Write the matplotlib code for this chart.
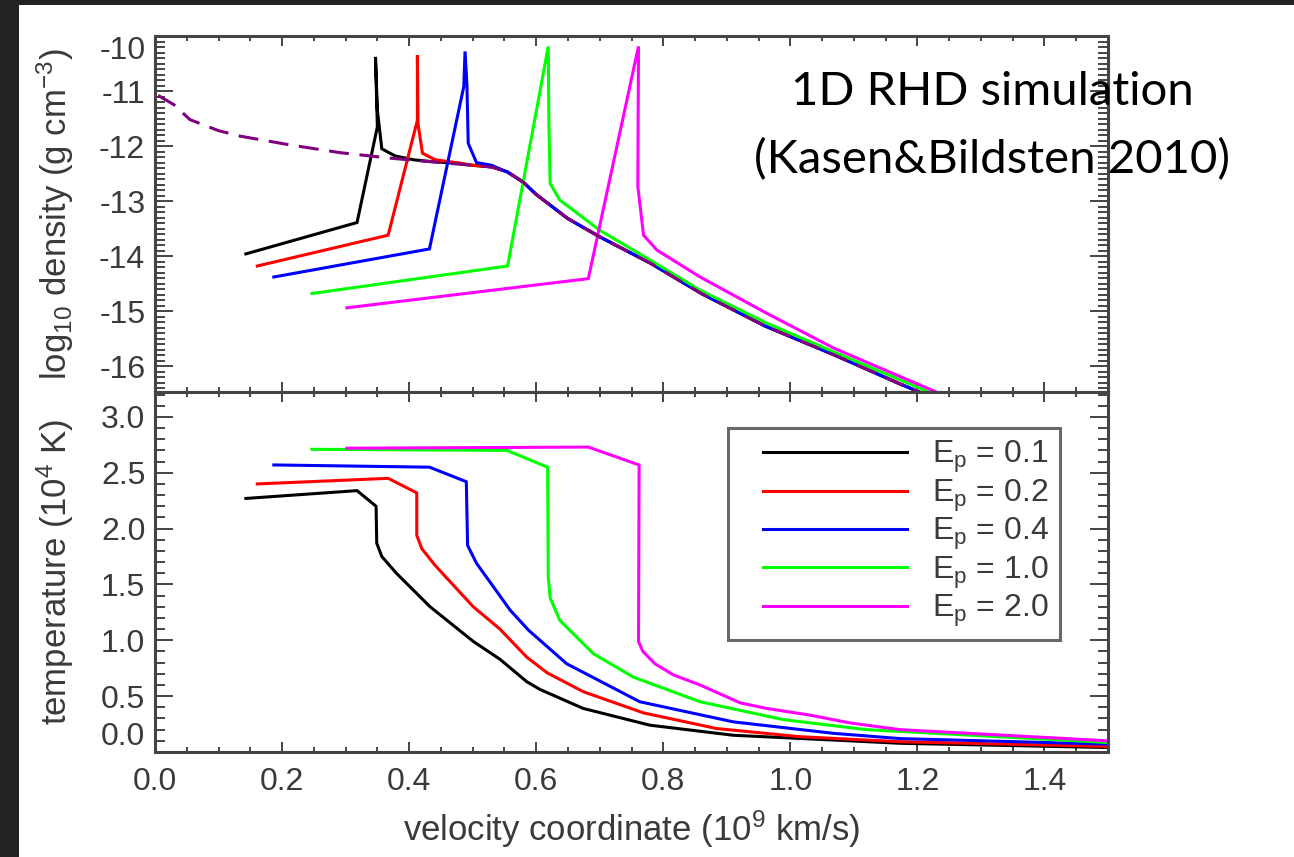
import matplotlib
matplotlib.use("Agg")
import matplotlib.pyplot as plt
from matplotlib.ticker import MultipleLocator
from matplotlib.legend_handler import HandlerLine2D
from matplotlib.lines import Line2D

# ---------------- data ----------------
energy_labels = ["0.1", "0.2", "0.4", "1.0", "2.0"]

# shared outer envelope (unshocked ejecta) for log10 density
envelope_v = [0.50, 0.53, 0.555, 0.58, 0.60, 0.65, 0.70, 0.78, 0.86, 0.96, 1.07, 1.17, 1.25]
envelope_rho = [-12.35, -12.38, -12.47, -12.66, -12.88, -13.32, -13.65, -14.13, -14.68, -15.27, -15.80, -16.31, -16.70]

# initial profile (dashed), inner part before joining the envelope
initial_v = [0.005, 0.03, 0.055, 0.10, 0.134, 0.213, 0.291, 0.37, 0.449]
initial_rho = [-11.08, -11.25, -11.52, -11.72, -11.82, -11.98, -12.12, -12.22, -12.30]

# log10 density, inner parts (joined to the envelope where noted)
rho_v_01 = [0.143, 0.318, 0.350, 0.347, 0.350, 0.357, 0.378, 0.407, 0.433, 0.47]
rho_01 = [-13.96, -13.39, -11.65, -10.38, -11.35, -12.05, -12.18, -12.25, -12.28, -12.31]

rho_v_02 = [0.161, 0.367, 0.413, 0.413, 0.414, 0.421, 0.441, 0.48]
rho_02 = [-14.18, -13.62, -11.53, -10.35, -11.60, -12.13, -12.25, -12.31]

rho_v_04 = [0.187, 0.432, 0.486, 0.488, 0.491, 0.493, 0.506, 0.53, 0.554]
rho_04 = [-14.38, -13.87, -10.92, -10.28, -10.90, -11.95, -12.30, -12.35, -12.47]

rho_v_10 = [0.247, 0.555, 0.619, 0.620, 0.622, 0.637, 0.70, 0.779, 0.858, 0.963, 1.068, 1.173, 1.25]
rho_10 = [-14.68, -14.18, -10.19, -11.60, -12.68, -12.98, -13.53, -14.07, -14.62, -15.22, -15.74, -16.25, -16.63]

rho_v_20 = [0.302, 0.682, 0.761, 0.760, 0.769, 0.790, 0.858, 0.963, 1.068, 1.173, 1.26]
rho_20 = [-14.94, -14.41, -10.19, -12.74, -13.62, -13.89, -14.38, -15.04, -15.67, -16.19, -16.62]

# temperature in 1e4 K
t_v_01 = [0.143, 0.318, 0.348, 0.349, 0.357, 0.380, 0.433, 0.501, 0.543, 0.585, 0.606, 0.674, 0.779, 0.910, 1.068, 1.173, 1.5]
temp_01 = [2.27, 2.34, 2.20, 1.87, 1.75, 1.60, 1.30, 0.99, 0.83, 0.63, 0.56, 0.39, 0.24, 0.15, 0.107, 0.078, 0.04]

t_v_02 = [0.161, 0.367, 0.412, 0.412, 0.420, 0.441, 0.501, 0.543, 0.585, 0.617, 0.674, 0.769, 0.884, 1.015, 1.173, 1.5]
temp_02 = [2.40, 2.45, 2.32, 1.94, 1.82, 1.67, 1.30, 1.10, 0.85, 0.71, 0.54, 0.35, 0.21, 0.137, 0.092, 0.05]

t_v_04 = [0.187, 0.432, 0.490, 0.492, 0.506, 0.559, 0.588, 0.648, 0.763, 0.910, 1.068, 1.173, 1.5]
temp_04 = [2.57, 2.55, 2.42, 1.85, 1.69, 1.27, 1.09, 0.79, 0.45, 0.27, 0.167, 0.12, 0.07]

t_v_10 = [0.247, 0.554, 0.618, 0.619, 0.622, 0.637, 0.690, 0.753, 0.858, 0.989, 1.12, 1.5]
temp_10 = [2.71, 2.70, 2.55, 1.57, 1.38, 1.18, 0.88, 0.67, 0.45, 0.29, 0.20, 0.085]

t_v_20 = [0.302, 0.682, 0.762, 0.761, 0.768, 0.787, 0.816, 0.858, 0.921, 0.963, 1.031, 1.094, 1.173, 1.5]
temp_20 = [2.72, 2.73, 2.57, 0.99, 0.90, 0.79, 0.69, 0.60, 0.44, 0.39, 0.33, 0.26, 0.20, 0.10]

# ---------------- style ----------------
line_colors = ["#000000", "#ff0000", "#0000ff", "#00ff00", "#ff00ff"]
initial_color = "#800080"
axis_gray = "#444444"
text_gray = "#3a3a3a"

plt.rcParams["font.family"] = ["Liberation Sans", "DejaVu Sans"]
plt.rcParams["mathtext.fontset"] = "custom"
plt.rcParams["mathtext.rm"] = "Liberation Sans"
plt.rcParams["mathtext.it"] = "Liberation Sans:italic"
plt.rcParams["mathtext.default"] = "regular"
plt.rcParams["axes.unicode_minus"] = False

TICK_FS = 23
LABEL_FS = 25

W, H = 1294, 857
fig = plt.figure(figsize=(W / 100, H / 100), dpi=100)
fig.patch.set_facecolor("white")

# dark frame strips along the left and top edges
fig.add_artist(plt.Rectangle((0, 0), 19 / W, 1, transform=fig.transFigure,
                             facecolor="#222222", edgecolor="none", zorder=-5))
fig.add_artist(plt.Rectangle((0, 1 - 5 / H), 1, 5 / H, transform=fig.transFigure,
                             facecolor="#222222", edgecolor="none", zorder=-5))

left, right = 155 / W, 1108 / W
ax_rho = fig.add_axes([left, 1 - 392 / H, right - left, (392 - 36) / H])
ax_t = fig.add_axes([left, 1 - 752 / H, right - left, (752 - 392) / H], sharex=ax_rho)

lw = 2.2


def style_axes(ax, ymajor, yminor):
    for sp in ax.spines.values():
        sp.set_color(axis_gray)
        sp.set_linewidth(2.2)
    ax.xaxis.set_major_locator(MultipleLocator(0.2))
    ax.xaxis.set_minor_locator(MultipleLocator(0.05))
    ax.yaxis.set_major_locator(MultipleLocator(ymajor))
    ax.yaxis.set_minor_locator(MultipleLocator(yminor))
    ax.tick_params(axis="both", which="both", direction="in", top=True, right=True,
                   color=axis_gray, width=1.4, labelcolor=text_gray, labelsize=TICK_FS)
    ax.tick_params(axis="x", which="major", length=7, pad=11)
    ax.tick_params(axis="x", which="minor", length=3.5)
    ax.tick_params(axis="y", which="major", length=13, pad=7)
    ax.tick_params(axis="y", which="minor", length=7)


# ---------------- density panel ----------------
rho_sets = [
    (rho_v_01 + envelope_v, rho_01 + envelope_rho),
    (rho_v_02 + envelope_v, rho_02 + envelope_rho),
    (rho_v_04 + envelope_v[3:], rho_04 + envelope_rho[3:]),
    (rho_v_10, rho_10),
    (rho_v_20, rho_20),
]
for (vx, ry), c in zip(rho_sets, line_colors):
    ax_rho.plot(vx, ry, color=c, lw=lw, solid_joinstyle="miter")
ax_rho.plot(initial_v + envelope_v, initial_rho + envelope_rho, color=initial_color,
            lw=lw, dashes=(6.5, 3.5), zorder=3)

ax_rho.set_xlim(0, 1.5)
ax_rho.set_ylim(-16.47, -10)
style_axes(ax_rho, 1, 0.1)
ax_rho.tick_params(axis="x", labelbottom=False)
ax_rho.set_ylabel(r"log$_{10}$ density (g cm$^{-3}$)", fontsize=LABEL_FS, color=text_gray)

# ---------------- temperature panel ----------------
t_sets = [(t_v_01, temp_01), (t_v_02, temp_02), (t_v_04, temp_04),
          (t_v_10, temp_10), (t_v_20, temp_20)]
handles = []
for (vx, ty), c, lab in zip(t_sets, line_colors, energy_labels):
    h, = ax_t.plot(vx, ty, color=c, lw=lw, label=r"E$_\mathrm{p}$ = " + lab)
    handles.append(h)

ax_t.set_xlim(0, 1.5)
ax_t.set_ylim(0, 3.223)
style_axes(ax_t, 0.5, 0.1)
ax_t.set_ylabel(r"temperature (10$^4$ K)", fontsize=LABEL_FS, color=text_gray)
ax_t.set_xlabel(r"velocity coordinate (10$^9$ km/s)", fontsize=LABEL_FS, color=text_gray,
                labelpad=8)

for ax in (ax_rho, ax_t):
    ax.yaxis.set_label_coords(-0.083, 0.5)

leg = ax_t.legend(handles=handles, loc="upper left", bbox_to_anchor=(0.601, 0.90),
                  borderaxespad=0, fontsize=TICK_FS, frameon=True, fancybox=False,
                  handlelength=5.27, handletextpad=0.78, labelspacing=0.07, borderpad=0.35,
                  handler_map={Line2D: HandlerLine2D(xpad=0.75)})
leg.get_frame().set_edgecolor(axis_gray)
leg.get_frame().set_linewidth(2.2)
for t in leg.get_texts():
    t.set_color(text_gray)

# annotation in the upper right
for label, ypix in (("1D RHD simulation", 92), ("(Kasen&Bildsten 2010)", 160)):
    fig.text(992 / W, 1 - ypix / H, label, family=["Lato", "DejaVu Sans"],
             fontsize=34, ha="center", va="center", color="black")

# keep the outermost y labels inside the panel extent
fig.canvas.draw()
for ax, edge_val, va in ((ax_rho, -10.0, "top"), (ax_t, 0.0, "bottom")):
    for tick in ax.yaxis.get_major_ticks():
        if abs(tick.get_loc() - edge_val) < 1e-9:
            tick.label1.set_va(va)

fig.savefig("out.png", dpi=100, facecolor=fig.get_facecolor())
